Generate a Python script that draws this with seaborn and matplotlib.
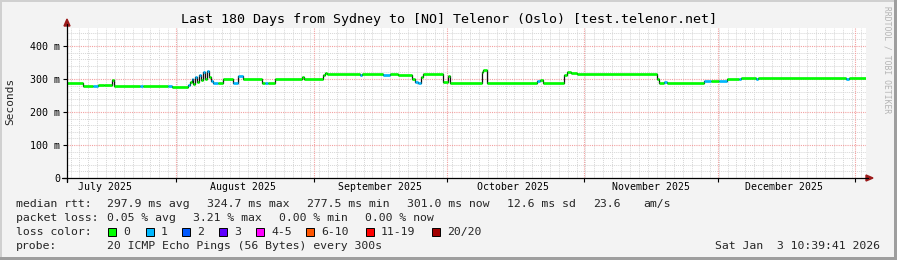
import matplotlib
matplotlib.use("Agg")
import numpy as np
import pandas as pd
import seaborn as sns
import matplotlib.pyplot as plt
import matplotlib.dates as mdates
from matplotlib.patches import Rectangle, Polygon
from matplotlib.lines import Line2D

# ---------------- data ----------------
title = "Last 180 Days from Sydney to [NO] Telenor (Oslo) [test.telenor.net]"
start_time = "2025-07-07 10:39"
end_time = "2026-01-03 10:39"

# step start times of the median rtt series (last entry = end of graph)
step_times = [
    "2025-07-07 10:39", "2025-07-11 01:00", "2025-07-13 07:00", "2025-07-14 10:00",
    "2025-07-15 18:00", "2025-07-17 14:00", "2025-07-18 00:00", "2025-07-23 21:00",
    "2025-07-24 13:00", "2025-07-30 04:00", "2025-07-31 02:00", "2025-08-03 16:00",
    "2025-08-04 03:00", "2025-08-04 14:00", "2025-08-04 22:00", "2025-08-05 06:00",
    "2025-08-05 17:00", "2025-08-06 03:00", "2025-08-06 14:00", "2025-08-07 01:00",
    "2025-08-07 12:00", "2025-08-07 23:00", "2025-08-08 09:00", "2025-08-08 20:00",
    "2025-08-09 07:00", "2025-08-10 10:00", "2025-08-11 13:00", "2025-08-13 19:00",
    "2025-08-14 22:00", "2025-08-16 01:00", "2025-08-20 08:00", "2025-08-21 00:00",
    "2025-08-21 16:00", "2025-08-23 06:00", "2025-08-29 08:00", "2025-08-29 18:00",
    "2025-09-03 01:00", "2025-09-03 12:00", "2025-09-03 23:00", "2025-09-11 09:00",
    "2025-09-11 20:00", "2025-09-16 13:00", "2025-09-18 03:00", "2025-09-19 22:00",
    "2025-09-23 02:00", "2025-09-23 18:00", "2025-09-24 10:00", "2025-09-25 02:00",
    "2025-09-25 18:00", "2025-09-30 01:00", "2025-10-01 04:00", "2025-10-01 20:00",
    "2025-10-08 20:00", "2025-10-09 06:00", "2025-10-09 23:00", "2025-10-21 10:00",
    "2025-10-22 02:00", "2025-10-22 18:00", "2025-10-27 12:00", "2025-10-28 04:00",
    "2025-10-29 02:00", "2025-10-30 10:00", "2025-11-17 10:00", "2025-11-17 21:00",
    "2025-11-19 00:00", "2025-11-19 16:00", "2025-11-28 00:00", "2025-11-29 14:00",
    "2025-12-01 09:00", "2025-12-03 04:00", "2025-12-05 21:00", "2025-12-06 08:00",
    "2025-12-09 17:00", "2025-12-10 03:00", "2025-12-29 23:00", "2025-12-30 15:00",
    "2026-01-03 10:39",
]
median_rtt_ms = [
    289, 280, 279, 281, 283, 298, 280, 280, 280, 279, 276, 283,
    292, 300, 286, 306, 291, 311, 296, 321, 300, 325, 305, 293,
    289, 289, 301, 289, 309, 301, 289, 289, 289, 301, 305, 301,
    313, 318, 315, 313, 315, 311, 315, 312, 300, 292, 287, 305,
    316, 292, 310, 288, 322, 326, 288, 293, 296, 288, 312, 320,
    318, 315, 300, 288, 291, 287, 293, 293, 293, 301, 300, 302,
    301, 302, 301, 302,
]
loss_level = [
    0, 0, 1, 0, 0, 0, 0, 1, 0, 1, 0, 1,
    0, 1, 0, 1, 0, 1, 0, 1, 0, 1, 0, 1,
    1, 0, 0, 1, 1, 0, 0, 1, 0, 0, 0, 0,
    0, 0, 0, 1, 0, 1, 0, 0, 0, 1, 1, 0,
    0, 0, 0, 0, 0, 0, 0, 1, 0, 0, 0, 0,
    0, 0, 0, 0, 1, 0, 1, 0, 1, 0, 1, 0,
    1, 0, 1, 0,
]

y_ticks = [0, 100, 200, 300, 400]
y_tick_labels = ["0", "100 m", "200 m", "300 m", "400 m"]
month_starts = ["2025-08-01", "2025-09-01", "2025-10-01", "2025-11-01", "2025-12-01", "2026-01-01"]
month_label_pos = ["2025-07-16", "2025-08-16", "2025-09-16", "2025-10-16", "2025-11-16", "2025-12-16"]
month_labels = ["July 2025", "August 2025", "September 2025", "October 2025",
                "November 2025", "December 2025"]

loss_names = ["0", "1", "2", "3", "4-5", "6-10", "11-19", "20/20"]
loss_colors = ["#00ff00", "#00b8ff", "#0059ff", "#5e00ff", "#ff00ff", "#ff5500", "#ff0000", "#a10000"]

rtt_line = [("median rtt:", 16), ("297.9 ms avg", 107), ("324.7 ms max", 207),
            ("277.5 ms min", 307), ("301.0 ms now", 407), ("12.6 ms sd", 507),
            ("23.6", 593), ("am/s", 643)]
loss_line = [("packet loss:", 16), ("0.05 % avg", 107), ("3.21 % max", 193),
             ("0.00 % min", 279), ("0.00 % now", 365)]
probe_text = "20 ICMP Echo Pings (56 Bytes) every 300s"
stamp_text = "Sat Jan  3 10:39:41 2026"

# ---------------- figure ----------------
W, H = 897, 260
sns.set_theme(style="white")
plt.rcParams["font.family"] = ["DejaVu Sans Mono", "DejaVu Sans"]
LF = 8.25

fig = plt.figure(figsize=(W / 100, H / 100), dpi=100)
fig.patch.set_facecolor("#f3f3f3")

def fx(px):
    return px / W

def fy(py):
    return 1 - py / H

ax = fig.add_axes([fx(67), fy(178), 799 / W, 150 / H])
ax.set_facecolor("white")
for s in ax.spines.values():
    s.set_visible(False)

t0 = pd.Timestamp(start_time)
t1 = pd.Timestamp(end_time)

# grid
minor_v = pd.date_range("2025-07-08 06:00", end_time, freq="2D")
for d in minor_v:
    ax.axvline(mdates.date2num(d), color="#d6d6d6", lw=0.7, ls=(0, (1, 1)), zorder=0)
for v in range(20, 460, 20):
    if v % 100:
        ax.axhline(v, color="#d6d6d6", lw=0.7, ls=(0, (1, 1)), zorder=0)
for v in y_ticks[1:]:
    ax.axhline(v, color="#f2a0a0", lw=0.8, ls=(0, (1, 1)), zorder=0.5)
for m in month_starts:
    ax.axvline(mdates.date2num(pd.Timestamp(m)), color="#f2a0a0", lw=0.8, ls=(0, (1, 1)), zorder=0.5)

# data
times = pd.to_datetime(step_times)
df = pd.DataFrame({"time": times, "rtt": median_rtt_ms + [median_rtt_ms[-1]]})
sns.lineplot(data=df, x="time", y="rtt", drawstyle="steps-post", color="#111111",
             lw=0.9, ax=ax, zorder=2)
tn = mdates.date2num(times)
ax.hlines(median_rtt_ms, tn[:-1], tn[1:], colors=[loss_colors[l] for l in loss_level],
          lw=1.9, zorder=3)

ax.set_xlim(mdates.date2num(t0), mdates.date2num(t1))
ax.set_ylim(0, 454.5)
ax.set_xlabel("")
ax.set_ylabel("")

# ticks
ax.set_yticks(y_ticks)
ax.set_yticklabels(y_tick_labels, fontsize=7.2)
ax.set_xticks([mdates.date2num(t0)] + [mdates.date2num(pd.Timestamp(m)) for m in month_starts])
ax.set_xticklabels([])
ax.tick_params(axis="y", length=3.2, width=0.8, pad=1.5, colors="black", left=True)
ax.tick_params(axis="x", length=3, width=0.8, colors="black", bottom=True, direction="out")
for d, lab in zip(month_label_pos, month_labels):
    ax.text(mdates.date2num(pd.Timestamp(d)), -9 / 150, lab, transform=ax.get_xaxis_transform(),
            ha="center", va="center", fontsize=7.1, color="black")

# axis lines and arrows
fig.add_artist(Line2D([fx(62), fx(868)], [fy(178), fy(178)], color="black", lw=0.9))
fig.add_artist(Line2D([fx(67), fx(67)], [fy(182), fy(24)], color="black", lw=0.9))
fig.add_artist(Polygon([[fx(64), fy(26)], [fx(70), fy(26)], [fx(67), fy(19)]],
                       closed=True, color="#9b1a1a"))
fig.add_artist(Polygon([[fx(866), fy(175)], [fx(866), fy(181)], [fx(873), fy(178)]],
                       closed=True, color="#9b1a1a"))

# texts
fig.text(0.5, fy(19), title, ha="center", va="center", fontsize=9.6, color="black")
fig.text(fx(10), fy(101), "Seconds", rotation=90, ha="center", va="center", fontsize=8)
fig.text(fx(887), fy(60), "RRDTOOL / TOBI OETIKER", rotation=270, ha="center",
         va="center", fontsize=5.8, color="#b4b4b4")

for s, x in rtt_line:
    fig.text(fx(x), fy(204), s, ha="left", va="center", fontsize=LF)
for s, x in loss_line:
    fig.text(fx(x), fy(218), s, ha="left", va="center", fontsize=LF)
fig.text(fx(16), fy(232), "loss color:", ha="left", va="center", fontsize=LF)
box_x = [108, 146, 182, 219, 256, 306, 366, 432]
for name, col, bx in zip(loss_names, loss_colors, box_x):
    fig.add_artist(Rectangle((fx(bx), fy(236)), 8 / W, 8 / H, facecolor=col,
                             edgecolor="black", lw=0.7))
    fig.text(fx(bx + 15), fy(232), name, ha="left", va="center", fontsize=LF)
fig.text(fx(16), fy(246), "probe:", ha="left", va="center", fontsize=LF)
fig.text(fx(107), fy(246), probe_text, ha="left", va="center", fontsize=LF)
fig.text(fx(880), fy(246), stamp_text, ha="right", va="center", fontsize=LF)

# border
fig.add_artist(Rectangle((0, 0), 2 / W, 1, facecolor="#d0d0d0", edgecolor="none"))
fig.add_artist(Rectangle((0, 1 - 2 / H), 1, 2 / H, facecolor="#d0d0d0", edgecolor="none"))
fig.add_artist(Rectangle((1 - 3 / W, 0), 3 / W, 1, facecolor="#9e9e9e", edgecolor="none"))
fig.add_artist(Rectangle((0, 0), 1, 3 / H, facecolor="#9e9e9e", edgecolor="none"))

fig.savefig("out.png", dpi=100, facecolor=fig.get_facecolor())
